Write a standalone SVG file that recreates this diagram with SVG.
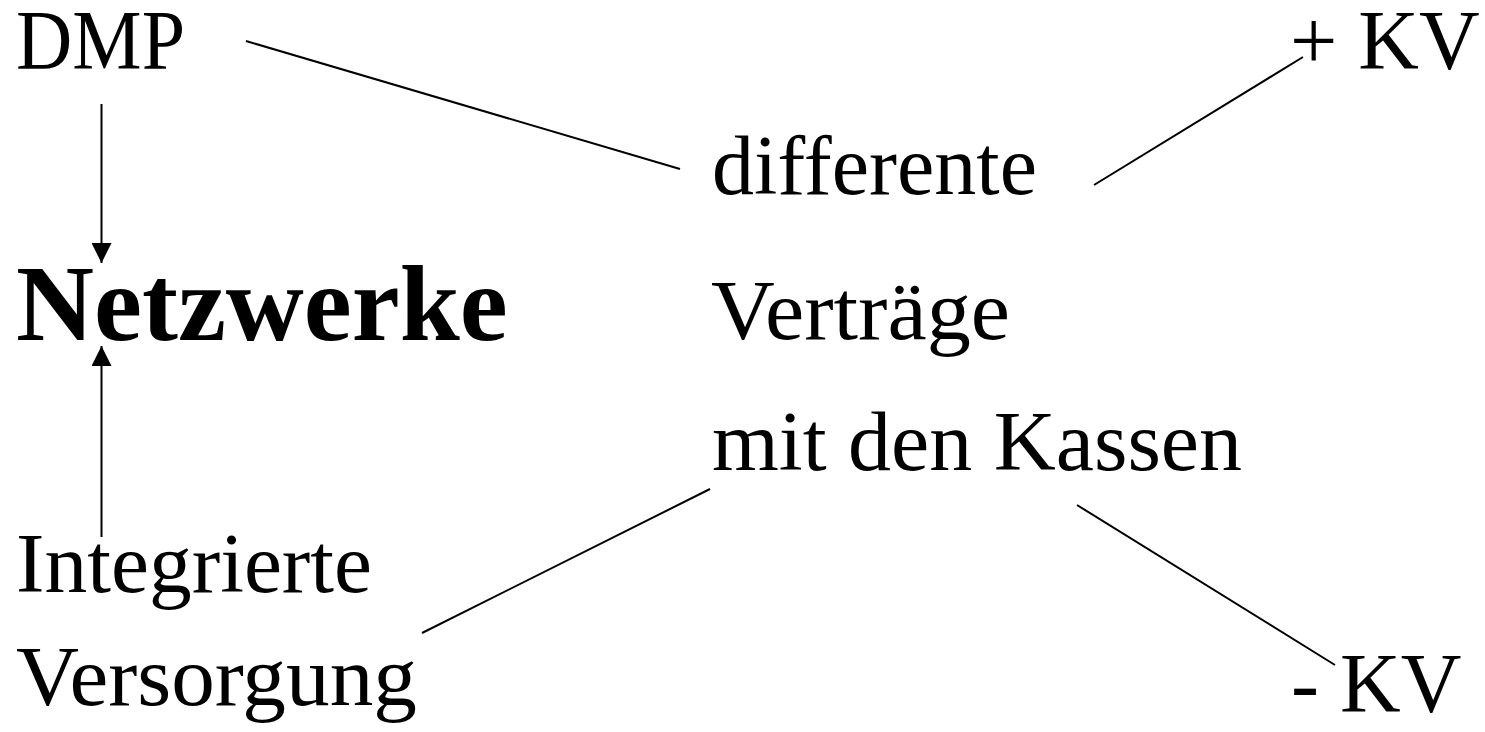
<svg xmlns="http://www.w3.org/2000/svg" width="1485" height="732" viewBox="0 0 1485 732">
<style>
text{font-family:"Liberation Serif","Times New Roman",serif;font-size:84px;fill:#000}
.big{font-size:108px;font-weight:bold}
.c line{stroke:#000;stroke-width:2}
</style>
<defs>
<marker id="ah" markerUnits="userSpaceOnUse" markerWidth="20" markerHeight="20" viewBox="0 0 20 20" refX="20" refY="10" orient="auto">
<path d="M0,0 L20,10 L0,20 z" fill="#000"/>
</marker>
</defs>
<rect width="1485" height="732" fill="#fff"/>
<g id="dmp"><text x="16" y="69" textLength="169" lengthAdjust="spacingAndGlyphs">DMP</text></g>
<g id="netzwerke"><text class="big" x="16" y="340">Netzwerke</text></g>
<g id="integrierte"><text x="16" y="592" textLength="356" lengthAdjust="spacingAndGlyphs">Integrierte</text><text x="16" y="705" textLength="401" lengthAdjust="spacingAndGlyphs">Versorgung</text></g>
<g id="vertraege"><text x="712" y="194">differente</text><text x="711" y="339" textLength="299" lengthAdjust="spacingAndGlyphs">Verträge</text><text x="712" y="470" textLength="530" lengthAdjust="spacingAndGlyphs">mit den Kassen</text></g>
<g id="pluskv"><text x="1290" y="69">+ KV</text></g>
<g id="minuskv"><text x="1291" y="712">- KV</text></g>
<g class="c" id="connectors">
<line x1="101.5" y1="104" x2="101.5" y2="263" marker-end="url(#ah)"/>
<line x1="101.5" y1="537" x2="101.5" y2="346" marker-end="url(#ah)"/>
<line x1="246" y1="41" x2="680" y2="169"/>
<line x1="1094" y1="185" x2="1303" y2="57"/>
<line x1="422" y1="633" x2="710" y2="489"/>
<line x1="1077" y1="505" x2="1335" y2="665"/>
</g>
</svg>
